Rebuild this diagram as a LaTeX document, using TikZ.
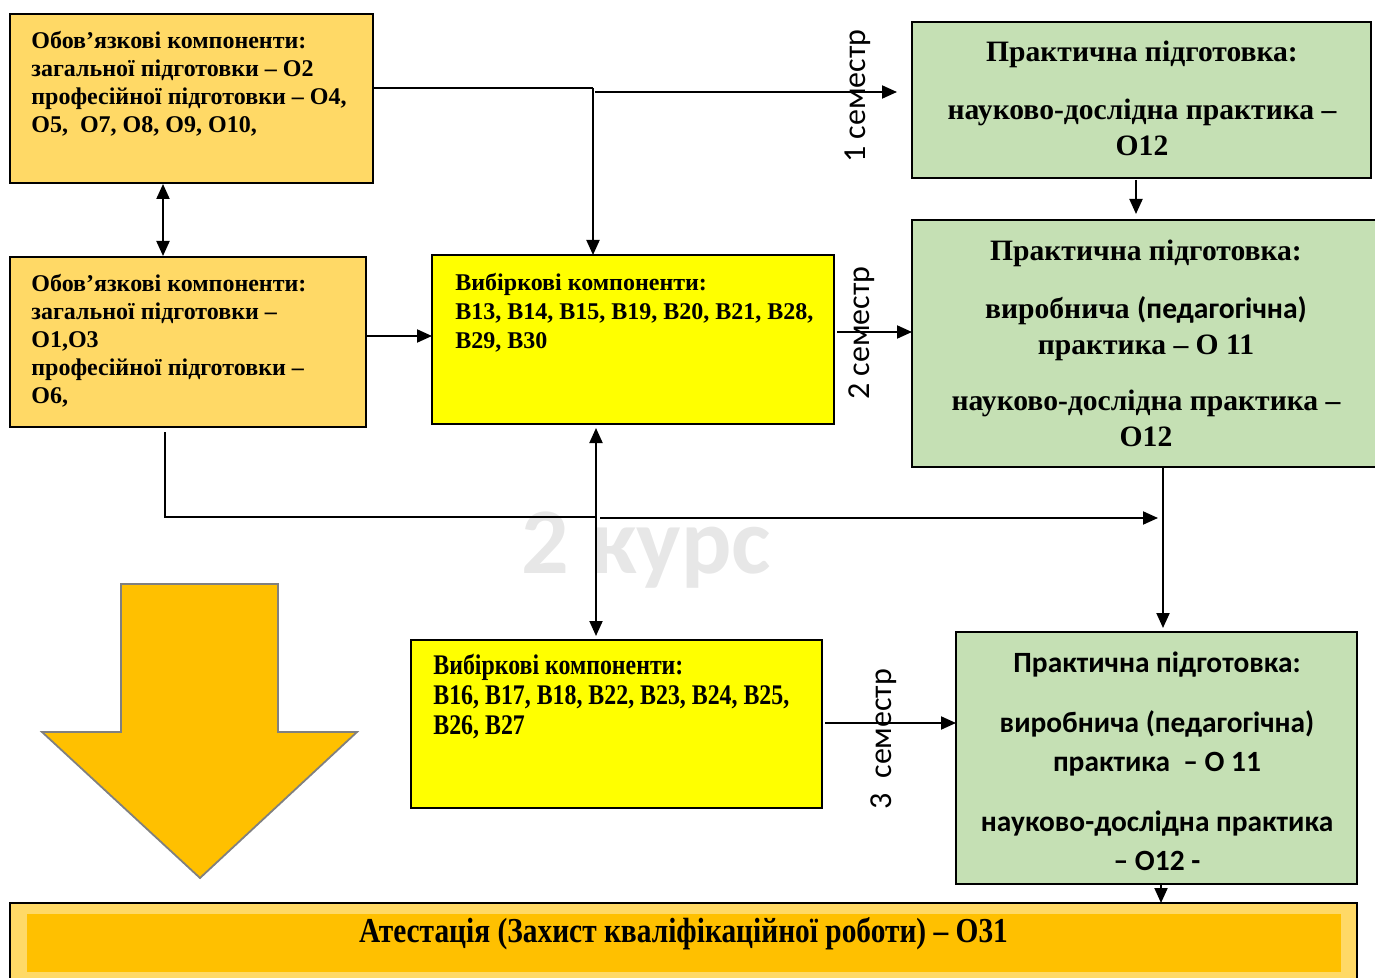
\documentclass[tikz,border=0pt]{standalone}
\usepackage{fontspec}
\setmainfont{Liberation Serif}
\newfontfamily\carl{Carlito}
\newfontfamily\narrow{Liberation Serif}[FakeStretch=0.84]
\usetikzlibrary{arrows.meta,calc}
\definecolor{lightor}{HTML}{FFD966}
\definecolor{gold}{HTML}{FFC000}
\definecolor{yel}{HTML}{FFFF00}
\definecolor{grn}{HTML}{C5E0B4}
\definecolor{wmark}{HTML}{E7E7E7}
\definecolor{arrowborder}{HTML}{808080}
\begin{document}
\begin{tikzpicture}[x=0.5pt,y=-0.5pt,
 box/.style={draw=black, line width=1.3pt, inner sep=0pt, outer sep=0pt},
 txt/.style={inner sep=0pt, anchor=north west, align=left, font=\bfseries\fontsize{12}{14}\selectfont},
 ctxt/.style={inner sep=0pt, align=center, font=\bfseries\fontsize{14.8}{18}\selectfont},
 arr/.style={line width=1pt, -{Triangle[length=7.5pt,width=6.5pt]}},
 darr/.style={line width=1pt, {Triangle[length=7.5pt,width=6.5pt]}-{Triangle[length=7.5pt,width=6.5pt]}},
 ln/.style={line width=1pt},
 sem/.style={rotate=90, font=\carl\fontsize{16}{16}\selectfont, inner sep=0pt}
]
\useasboundingbox (0,0) rectangle (1375,978);

% watermark
\node[font=\carl\bfseries\fontsize{47}{47}\selectfont, text=wmark, inner sep=0pt, anchor=base] (wm) at (646,573) {2 курс};

% boxes
\node[box, fill=lightor, minimum width=181.5pt, minimum height=84.5pt] (b1) at (191.5,98.5) {};
\node[box, fill=lightor, minimum width=178pt, minimum height=85pt] (b2) at (188,342) {};
\node[box, fill=yel, minimum width=201pt, minimum height=84.5pt] (v1) at (633,339.5) {};
\node[box, fill=yel, minimum width=205.5pt, minimum height=84pt] (v2) at (616.5,724) {};
\node[box, fill=grn, minimum width=229.5pt, minimum height=78pt] (g1) at (1141.5,100) {};
\node[box, fill=grn, minimum width=232.5pt, minimum height=123.5pt] (g2) at (1144.5,343.5) {};
\node[box, fill=grn, minimum width=200.5pt, minimum height=126pt] (g3) at (1156.5,758) {};
\node[box, fill=lightor, minimum width=673.5pt, minimum height=43.5pt] (att) at (683.5,946.5) {};
\node[inner sep=0pt, fill=gold, minimum width=657pt, minimum height=29pt] (attin) at (684,943) {};

% big arrow
\draw[draw=arrowborder, fill=gold, line width=0.9pt] (121,584) -- (278,584) -- (278,732) -- (357,732) -- (200,878) -- (42,732) -- (121,732) -- cycle;

% texts
\node[txt] (t1) at (31,31) {Обов’язкові компоненти:\\загальної підготовки – О2\\професійної підготовки – О4,\\О5,~ О7, О8, О9, О10,};
\node[txt] (t2) at (31,274) {Обов’язкові компоненти:\\загальної підготовки –\\О1,О3\\професійної підготовки –\\О6,};
\node[txt, font=\bfseries\fontsize{12}{14.5}\selectfont] (t3) at (455,273) {Вибіркові компоненти:\\В13, В14, В15, В19, В20, В21, В28,\\В29, В30};
\node[txt, font=\narrow\bfseries\fontsize{14.2}{15}\selectfont] (t4) at (433,654) {Вибіркові компоненти:\\В16, В17, В18, В22, В23, В24, В25,\\В26, В27};

\node[ctxt] (tg1) at (1142,98) {Практична підготовка:\\[11pt]науково-дослідна практика –\\О12};
\node[ctxt] (tg2) at (1146,343.5) {Практична підготовка:\\[11pt]виробнича {\carl (педагогічна)}\\практика – О 11\\[10pt]науково-дослідна практика –\\О12};
\node[ctxt, font=\carl\bfseries\fontsize{14.7}{19.5}\selectfont] (tg3) at (1157,761) {Практична підготовка:\\[10.5pt]виробнича (педагогічна)\\практика~ – О 11\\[10.5pt]науково-дослідна практика\\– О12 -};
\node[inner sep=0pt, font=\narrow\bfseries\fontsize{17.5}{17.5}\selectfont] (tatt) at (683.5,934) {Атестація (Захист кваліфікаційної роботи) – О31};

% connectors
\coordinate (j1) at (593,88);
\coordinate (j2) at (595,92);
\draw[ln] (b1.east |- j1) -- (j1);
\draw[arr, shorten >=7.5pt] (j2) -- (g1.west |- j2);
\draw[arr] (j1) -- (j1 |- v1.north);

\coordinate (x163) at (163,0);
\draw[darr, shorten <=0.5pt, shorten >=0.5pt] (b1.south -| x163) -- (b2.north -| x163);

\coordinate (y336) at (0,336);
\draw[arr] (b2.east |- y336) -- (v1.west |- y336);

\coordinate (y332) at (0,332);
\draw[arr, shorten <=1.5pt] (v1.east |- y332) -- (g2.west |- y332);

\coordinate (x1136) at (1136,0);
\draw[arr, shorten <=1pt, shorten >=3pt] (g1.south -| x1136) -- (g2.north -| x1136);

\coordinate (x165) at (165,0);
\coordinate (k1) at (165,517);
\coordinate (k2) at (595,517);
\draw[ln, shorten <=2.5pt] (b2.south -| x165) -- (k1) -- (k2);
\coordinate (k3) at (600,518);
\coordinate (k4) at (1158,518);
\draw[arr] (k3) -- (k4);

\coordinate (x596) at (596,0);
\draw[darr, shorten <=2pt, shorten >=2pt] (v1.south -| x596) -- (v2.north -| x596);

\coordinate (x1163) at (1163,0);
\draw[arr, shorten <=0.5pt, shorten >=2pt] (g2.south -| x1163) -- (g3.north -| x1163);

\coordinate (y723) at (0,723);
\draw[arr, shorten <=1.5pt] (v2.east |- y723) -- (g3.west |- y723);

\coordinate (x1161) at (1161,0);
\draw[arr] (g3.south -| x1161) -- (att.north -| x1161);

% semester labels
\node[sem] (s1) at (858,96) {1 семестр};
\node[sem] (s2) at (862,333) {2 семестр};
\node[sem] (s3) at (884,739) {3~~семестр};
\end{tikzpicture}
\end{document}
